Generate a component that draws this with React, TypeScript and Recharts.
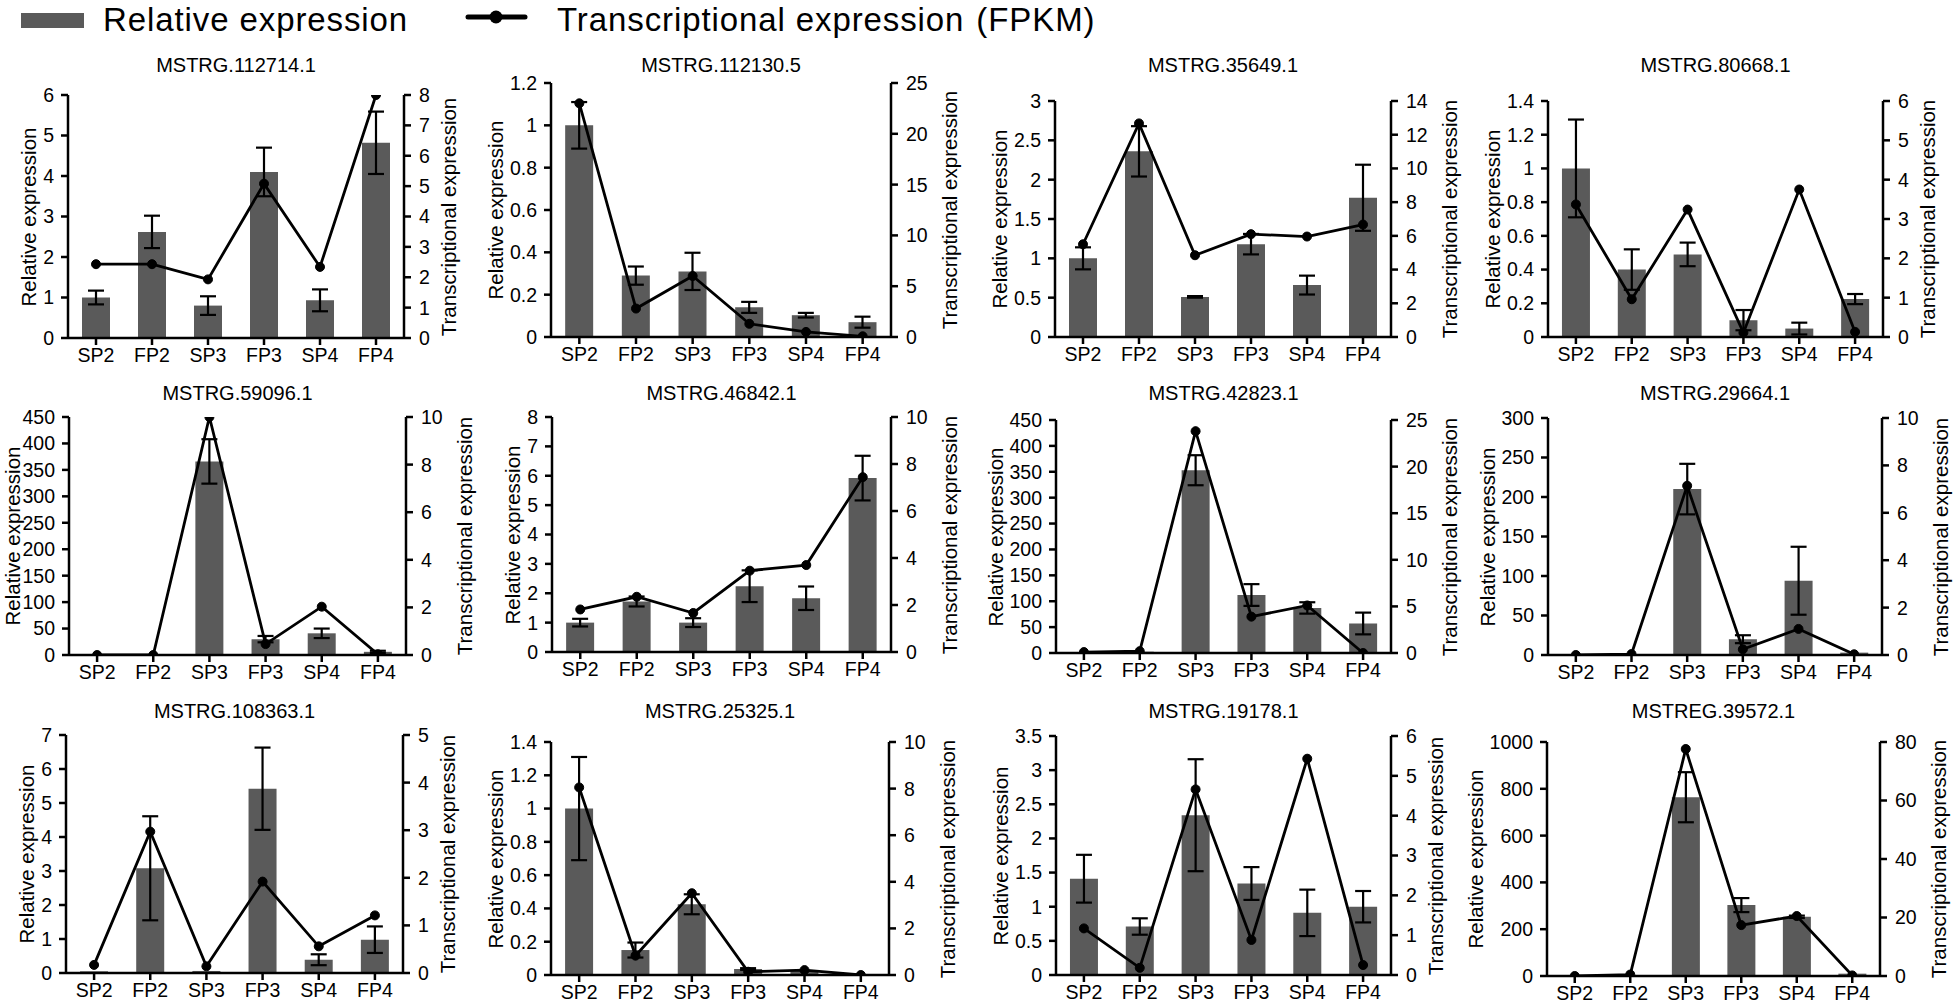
import { Bar, ComposedChart, ErrorBar, Line, XAxis, YAxis } from 'recharts'

const categories = ['SP2', 'FP2', 'SP3', 'FP3', 'SP4', 'FP4']

const genes = [
  'MSTRG.112714.1',
  'MSTRG.112130.5',
  'MSTRG.35649.1',
  'MSTRG.80668.1',
  'MSTRG.59096.1',
  'MSTRG.46842.1',
  'MSTRG.42823.1',
  'MSTRG.29664.1',
  'MSTRG.108363.1',
  'MSTRG.25325.1',
  'MSTRG.19178.1',
  'MSTREG.39572.1',
]

// relative expression (qRT-PCR), its error, and FPKM per gene
const rel1 = [1.0, 2.62, 0.8, 4.1, 0.93, 4.82]
const err1 = [0.17, 0.4, 0.23, 0.6, 0.27, 0.77]
const fpkm1 = [2.43, 2.43, 1.93, 5.08, 2.34, 8.0]
const left1 = [0, 1, 2, 3, 4, 5, 6]
const right1 = [0, 1, 2, 3, 4, 5, 6, 7, 8]

const rel2 = [1.0, 0.29, 0.31, 0.14, 0.103, 0.07]
const err2 = [0.11, 0.043, 0.088, 0.026, 0.011, 0.026]
const fpkm2 = [23.0, 2.8, 6.0, 1.3, 0.5, 0.07]
const left2 = [0, 0.2, 0.4, 0.6, 0.8, 1, 1.2]
const right2 = [0, 5, 10, 15, 20, 25]

const rel3 = [1.0, 2.36, 0.51, 1.18, 0.66, 1.77]
const err3 = [0.14, 0.32, 0.01, 0.13, 0.12, 0.42]
const fpkm3 = [5.5, 12.67, 4.85, 6.1, 5.96, 6.67]
const left3 = [0, 0.5, 1, 1.5, 2, 2.5, 3]
const right3 = [0, 2, 4, 6, 8, 10, 12, 14]

const rel4 = [1.0, 0.4, 0.49, 0.1, 0.05, 0.225]
const err4 = [0.29, 0.12, 0.07, 0.06, 0.035, 0.03]
const fpkm4 = [3.37, 0.96, 3.24, 0.11, 3.75, 0.13]
const left4 = [0, 0.2, 0.4, 0.6, 0.8, 1, 1.2, 1.4]
const right4 = [0, 1, 2, 3, 4, 5, 6]

const rel5 = [0.4, 0.6, 366, 30, 41, 6]
const err5 = [0, 0, 42, 6, 9, 2]
const fpkm5 = [0, 0, 10, 0.46, 2.03, 0.03]
const left5 = [0, 50, 100, 150, 200, 250, 300, 350, 400, 450]
const right5 = [0, 2, 4, 6, 8, 10]

const rel6 = [1.0, 1.72, 1.0, 2.24, 1.83, 5.92]
const err6 = [0.13, 0.17, 0.15, 0.54, 0.4, 0.76]
const fpkm6 = [1.81, 2.35, 1.66, 3.46, 3.7, 7.44]
const left6 = [0, 1, 2, 3, 4, 5, 6, 7, 8]
const right6 = [0, 2, 4, 6, 8, 10]

const rel7 = [1, 2.5, 353, 112, 87, 57]
const err7 = [0, 0, 29, 21, 11, 21]
const fpkm7 = [0.1, 0.2, 23.8, 3.9, 5.1, 0]
const left7 = [0, 50, 100, 150, 200, 250, 300, 350, 400, 450]
const right7 = [0, 5, 10, 15, 20, 25]

const rel8 = [0.5, 1, 210, 20, 94, 3]
const err8 = [0, 0, 32, 5, 43, 0]
const fpkm8 = [0, 0.04, 7.14, 0.24, 1.1, 0.03]
const left8 = [0, 50, 100, 150, 200, 250, 300]
const right8 = [0, 2, 4, 6, 8, 10]

const rel9 = [0.05, 3.08, 0.06, 5.42, 0.39, 0.98]
const err9 = [0, 1.53, 0, 1.21, 0.16, 0.39]
const fpkm9 = [0.17, 2.97, 0.14, 1.92, 0.56, 1.21]
const left9 = [0, 1, 2, 3, 4, 5, 6, 7]
const right9 = [0, 1, 2, 3, 4, 5]

const rel10 = [1.0, 0.15, 0.425, 0.036, 0.024, 0.004]
const err10 = [0.31, 0.045, 0.06, 0.005, 0, 0]
const fpkm10 = [8.05, 0.83, 3.51, 0.14, 0.21, 0]
const left10 = [0, 0.2, 0.4, 0.6, 0.8, 1, 1.2, 1.4]
const right10 = [0, 2, 4, 6, 8, 10]

const rel11 = [1.41, 0.71, 2.34, 1.34, 0.91, 1.0]
const err11 = [0.35, 0.12, 0.82, 0.24, 0.34, 0.23]
const fpkm11 = [1.17, 0.18, 4.66, 0.88, 5.43, 0.25]
const left11 = [0, 0.5, 1, 1.5, 2, 2.5, 3, 3.5]
const right11 = [0, 1, 2, 3, 4, 5, 6]

const rel12 = [1, 3, 764, 303, 253, 10]
const err12 = [0, 0, 107, 30, 5, 0]
const fpkm12 = [0, 0.5, 77.6, 17.4, 20.5, 0.2]
const left12 = [0, 200, 400, 600, 800, 1000]
const right12 = [0, 20, 40, 60, 80]

const relSets = [rel1, rel2, rel3, rel4, rel5, rel6, rel7, rel8, rel9, rel10, rel11, rel12]
const errSets = [err1, err2, err3, err4, err5, err6, err7, err8, err9, err10, err11, err12]
const fpkmSets = [fpkm1, fpkm2, fpkm3, fpkm4, fpkm5, fpkm6, fpkm7, fpkm8, fpkm9, fpkm10, fpkm11, fpkm12]
const leftSets = [left1, left2, left3, left4, left5, left6, left7, left8, left9, left10, left11, left12]
const rightSets = [right1, right2, right3, right4, right5, right6, right7, right8, right9, right10, right11, right12]

// plot-area boxes in page pixels (left axis x, right axis x, top, bottom, title y)
const layout = [
  { l: 68, r: 404, t: 95, b: 338, ty: 65 },
  { l: 551, r: 891, t: 83, b: 337, ty: 65 },
  { l: 1055, r: 1391, t: 101, b: 337, ty: 65 },
  { l: 1548, r: 1883, t: 101, b: 337, ty: 65 },
  { l: 69, r: 406, t: 417, b: 655, ty: 393 },
  { l: 552, r: 891, t: 417, b: 652, ty: 393 },
  { l: 1056, r: 1391, t: 420, b: 653, ty: 393 },
  { l: 1548, r: 1882, t: 418, b: 655, ty: 393 },
  { l: 66, r: 403, t: 735, b: 973, ty: 711 },
  { l: 551, r: 889, t: 742, b: 975, ty: 711 },
  { l: 1056, r: 1391, t: 736, b: 975, ty: 711 },
  { l: 1547, r: 1880, t: 742, b: 976, ty: 711 },
]

const BAR = '#5a5a5a'
const FONT = '"Liberation Sans", Arial, Helvetica, sans-serif'
const AXIS_W = 62
const TOP_PAD = 14
const X_H = 40

const axisStyle = { stroke: '#000', strokeWidth: 2.5 }
const tickStyle = { fill: '#000', fontSize: 19.5 }

// rough width of the widest tick label, to keep axis titles clear of it
function labelWidth(ticks: number[]) {
  let widest = 0
  for (const t of ticks) {
    let w = 0
    for (const ch of String(t)) w += ch === '.' ? 5.4 : 10.8
    widest = Math.max(widest, w)
  }
  return widest
}

function Panel({ idx }: { idx: number }) {
  const box = layout[idx]
  const plotW = box.r - box.l
  const plotH = box.b - box.t
  const leftTicks = leftSets[idx]
  const rightTicks = rightSets[idx]
  const data = categories.map((cat, i) => ({
    cat,
    rel: relSets[idx][i],
    err: errSets[idx][i],
    fpkm: fpkmSets[idx][i],
  }))
  // keep the leftmost titles inside the page
  const leftTitleX = Math.max(13, box.l - 28 - labelWidth(leftTicks))
  const rightTitleX = box.r + 31 + 1.3 * labelWidth(rightTicks)
  const midY = (box.t + box.b) / 2

  const rotated = {
    position: 'absolute' as const,
    top: midY,
    transform: 'translate(-50%, -50%) rotate(-90deg)',
    whiteSpace: 'nowrap' as const,
    fontSize: 20.5,
    lineHeight: 1,
  }

  return (
    <>
      <div
        style={{
          position: 'absolute',
          left: (box.l + box.r) / 2 - 150,
          top: box.ty - 12,
          width: 300,
          textAlign: 'center',
          fontSize: 20,
          lineHeight: '24px',
        }}
      >
        {genes[idx]}
      </div>
      <div style={{ ...rotated, left: leftTitleX }}>Relative expression</div>
      <div style={{ ...rotated, left: rightTitleX }}>Transcriptional expression</div>
      <div style={{ position: 'absolute', left: box.l - AXIS_W, top: box.t - TOP_PAD }}>
        <ComposedChart
          width={plotW + 2 * AXIS_W}
          height={plotH + TOP_PAD + X_H}
          data={data}
          margin={{ top: TOP_PAD, right: 0, bottom: 0, left: 0 }}
          barCategoryGap="25%"
        >
          <XAxis
            dataKey="cat"
            height={X_H}
            tickSize={7}
            tickMargin={3}
            axisLine={axisStyle}
            tickLine={axisStyle}
            tick={tickStyle}
            interval={0}
          />
          <YAxis
            yAxisId="left"
            width={AXIS_W}
            domain={[0, leftTicks[leftTicks.length - 1]]}
            ticks={leftTicks}
            interval={0}
            tickSize={7}
            tickMargin={7}
            axisLine={axisStyle}
            tickLine={axisStyle}
            tick={tickStyle}
            allowDataOverflow
          />
          <YAxis
            yAxisId="right"
            orientation="right"
            width={AXIS_W}
            domain={[0, rightTicks[rightTicks.length - 1]]}
            ticks={rightTicks}
            interval={0}
            tickSize={7}
            tickMargin={8}
            axisLine={axisStyle}
            tickLine={axisStyle}
            tick={tickStyle}
            allowDataOverflow
          />
          <Bar yAxisId="left" dataKey="rel" fill={BAR} isAnimationActive={false}>
            <ErrorBar dataKey="err" width={8} stroke="#000" strokeWidth={2.2} />
          </Bar>
          <Line
            yAxisId="right"
            dataKey="fpkm"
            type="linear"
            stroke="#000"
            strokeWidth={2.8}
            dot={{ r: 4.5, fill: '#000', stroke: '#000', strokeWidth: 1 }}
            activeDot={false}
            isAnimationActive={false}
          />
        </ComposedChart>
      </div>
    </>
  )
}

const legendText = {
  position: 'absolute' as const,
  top: 1,
  fontSize: 33,
  lineHeight: '38px',
  letterSpacing: 0.9,
  whiteSpace: 'nowrap' as const,
}

function LegendRow() {
  return (
    <>
      <div style={{ position: 'absolute', left: 21, top: 13, width: 63, height: 15, background: BAR }} />
      <div style={{ ...legendText, left: 103 }}>Relative expression</div>
      <svg style={{ position: 'absolute', left: 462, top: 5 }} width={70} height={24}>
        <line x1={6} y1={12} x2={63} y2={12} stroke="#000" strokeWidth={5} strokeLinecap="round" />
        <circle cx={34} cy={12} r={6.5} fill="#000" />
      </svg>
      <div style={{ ...legendText, left: 557 }}>
        Transcriptional expression<span style={{ marginLeft: 12 }}>(FPKM)</span>
      </div>
    </>
  )
}

export default function App() {
  return (
    <div
      style={{
        position: 'absolute',
        left: 0,
        top: 0,
        width: 1955,
        height: 1008,
        background: '#fff',
        overflow: 'hidden',
        fontFamily: FONT,
        color: '#000',
      }}
    >
      <LegendRow />
      {layout.map((_, i) => (
        <Panel key={i} idx={i} />
      ))}
    </div>
  )
}
